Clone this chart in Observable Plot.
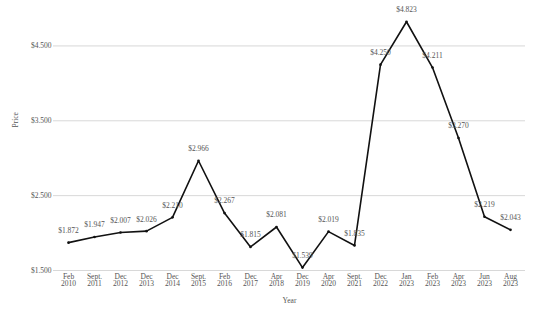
<!DOCTYPE html>
<html>
<head>
<meta charset="utf-8">
<script src="https://cdn.jsdelivr.net/npm/d3@7"></script>
<script src="https://cdn.jsdelivr.net/npm/@observablehq/plot@0.6"></script>
<style>
  html, body { margin: 0; padding: 0; background: #fff; }
  #chart svg { display: block; }
</style>
</head>
<body>
<div id="chart"></div>
<script>
const periods = ["Feb","Sept.","Dec","Dec","Dec","Sept.","Feb","Dec","Apr","Dec","Apr","Sept.","Dec","Jan","Feb","Apr","Jun","Aug"];
const years = [2010,2011,2012,2013,2014,2015,2016,2017,2018,2019,2020,2021,2022,2023,2023,2023,2023,2023];
const prices = [1.872,1.947,2.007,2.026,2.210,2.966,2.267,1.815,2.081,1.539,2.019,1.835,4.250,4.823,4.211,3.270,2.219,2.043];
const yTicks = [1.5, 2.5, 3.5, 4.5];

const data = periods.map((p, i) => ({key: p + "\n" + years[i], price: prices[i]}));
const fmt = d => "$" + d.toFixed(3);

const chart = Plot.plot({
  width: 555,
  height: 313,
  marginLeft: 53,
  marginRight: 30,
  marginTop: 8,
  marginBottom: 43,
  style: {fontFamily: "'Liberation Serif', serif", fontSize: "7.5px", color: "#555", background: "#fff"},
  x: {type: "point", domain: data.map(d => d.key), padding: 0.5, label: null},
  y: {domain: [1.5, 5.0], ticks: yTicks, label: null},
  marks: [
    Plot.gridY(yTicks, {stroke: "#d8d8d8", strokeOpacity: 1, strokeWidth: 1}),
    Plot.axisY(yTicks, {tickSize: 0, tickPadding: 2, tickFormat: fmt, label: null, fill: "#555"}),
    Plot.axisX({tickSize: 0, tickPadding: 3, label: null, lineHeight: 1, fill: "#555"}),
    Plot.line(data, {x: "key", y: "price", stroke: "#111", strokeWidth: 1.6}),
    Plot.dot(data, {x: "key", y: "price", r: 1.3, fill: "#111"}),
    Plot.text(data, {x: "key", y: "price", text: d => fmt(d.price), dy: -12, fill: "#555"}),
    Plot.text(["Price"], {frameAnchor: "left", text: d => d, rotate: -90, dx: -38, dy: -12, fill: "#555"}),
    Plot.text(["Year"], {frameAnchor: "bottom", text: d => d, dy: 32, fill: "#555"})
  ]
});
document.getElementById("chart").appendChild(chart);
</script>
</body>
</html>
